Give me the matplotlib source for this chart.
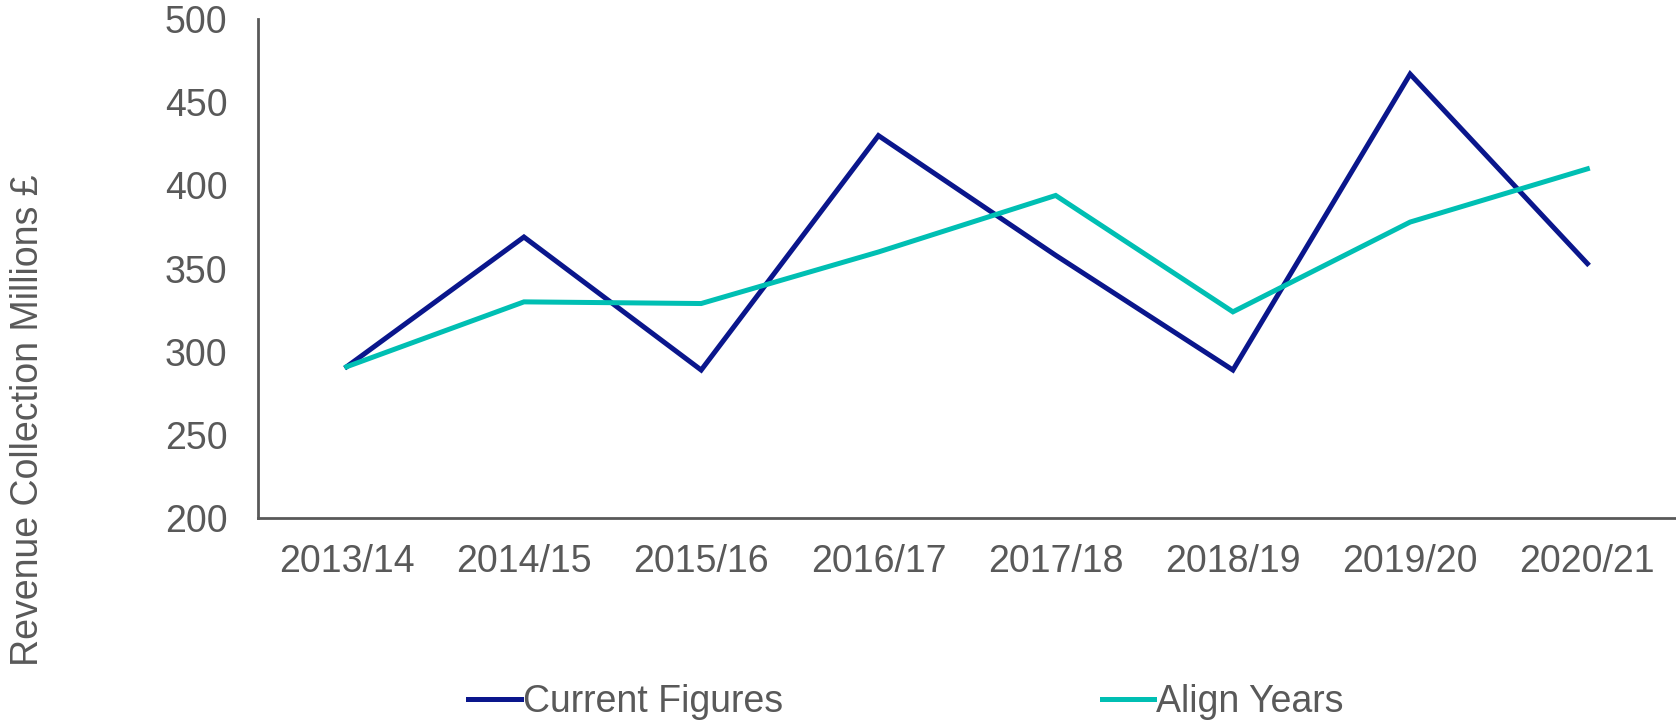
import matplotlib
matplotlib.use('Agg')
import matplotlib.pyplot as plt

years = ['2013/14', '2014/15', '2015/16', '2016/17', '2017/18', '2018/19', '2019/20', '2020/21']
current_figures = [291, 369, 289, 430, 358, 289, 467, 353]
align_years = [291, 330, 329, 360, 394, 324, 378, 410]

grey = '#595959'
plt.rcParams['font.family'] = ['Liberation Sans', 'DejaVu Sans']
fs = 27

fig = plt.figure(figsize=(16.76, 7.25), dpi=100)
ax = fig.add_axes([0.154, 0.2855, 0.846, 0.688])

x = range(len(years))
ax.plot(x, current_figures, color='#0A168C', lw=3.6, label='Current Figures', solid_joinstyle='miter')
ax.plot(x, align_years, color='#00BFB3', lw=3.6, label='Align Years', solid_joinstyle='miter')

ax.set_xlim(-0.5, len(years) - 0.5)
ax.set_ylim(200, 500)
ax.set_yticks(range(200, 501, 50))
ax.set_xticks(list(x))
ax.set_xticklabels(years)
ax.tick_params(length=0, labelsize=fs, labelcolor=grey)
ax.tick_params(axis='y', pad=22)
ax.tick_params(axis='x', pad=19)

for s in ['top', 'right']:
    ax.spines[s].set_visible(False)
for s in ['left', 'bottom']:
    ax.spines[s].set_color(grey)
    ax.spines[s].set_linewidth(2)

fig.text(28 / 1676, 1 - 420 / 725, 'Revenue Collection Millions £', rotation=90,
         ha='center', va='center', fontsize=fs, color=grey)

leg = fig.legend(loc='center', bbox_to_anchor=(906 / 1676, 1 - 702 / 725), ncol=2,
                 frameon=False, fontsize=fs, handlelength=1.4, handletextpad=0.05,
                 columnspacing=8.5)
for t in leg.get_texts():
    t.set_color(grey)

fig.savefig('out.png', dpi=100)
